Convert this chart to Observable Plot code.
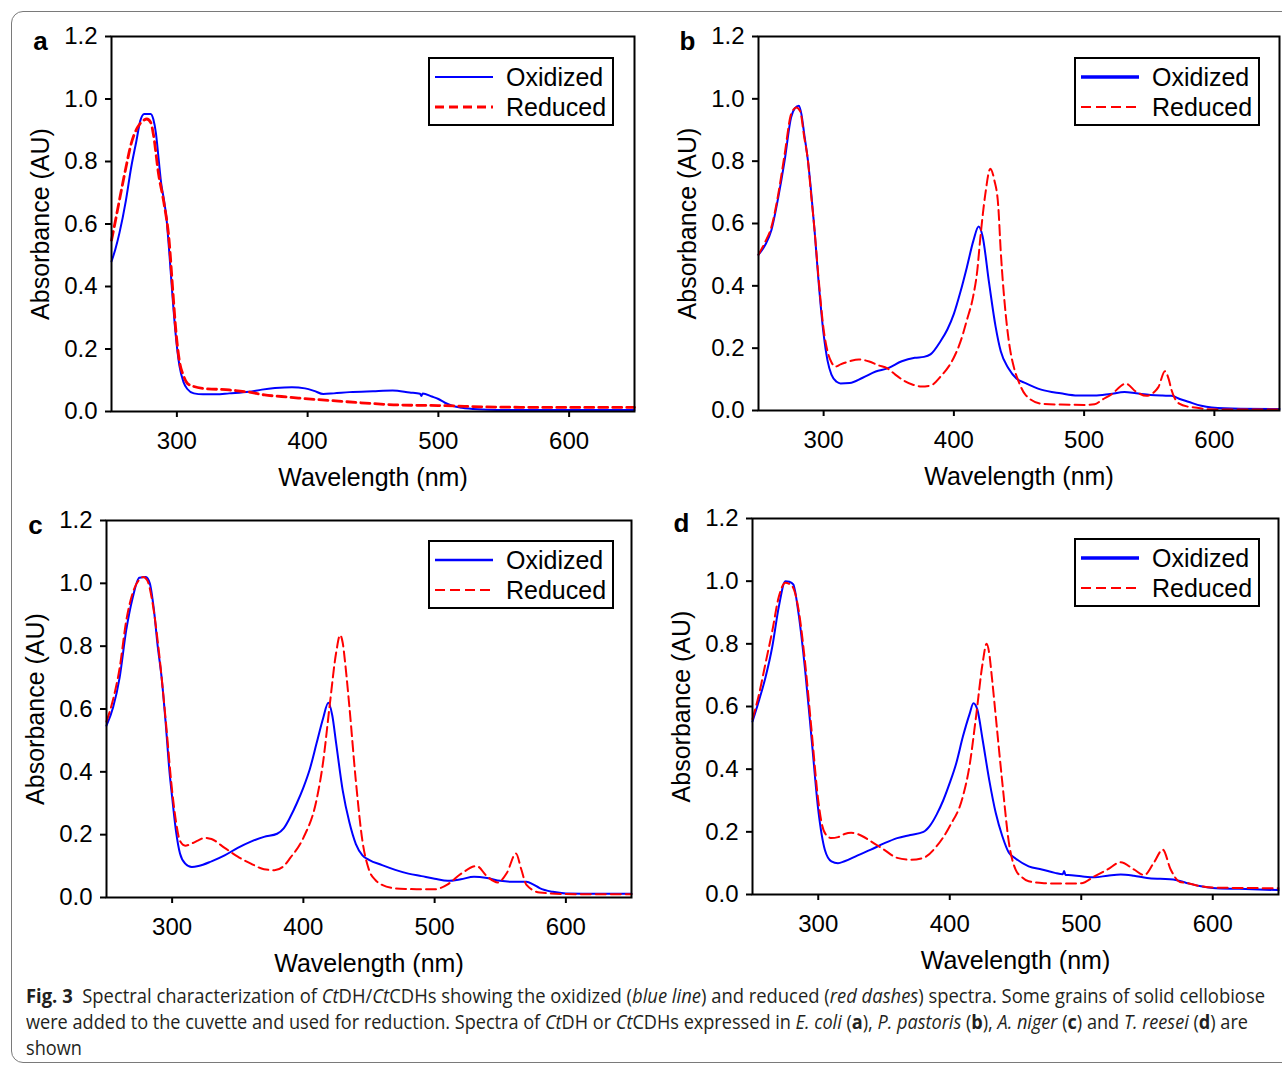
<!DOCTYPE html>
<html>
<head>
<meta charset="utf-8">
<script src="https://cdn.jsdelivr.net/npm/d3@7"></script>
<script src="https://cdn.jsdelivr.net/npm/@observablehq/plot@0.6"></script>
<style>
  html, body { margin: 0; padding: 0; background: #fff; }
  body { width: 1282px; height: 1067px; overflow: hidden; position: relative; font-family: "Liberation Sans", Arial, sans-serif; }
  .border { position: absolute; left: 11px; top: 11px; width: 1310px; height: 1052px; border: 1.5px solid #7a7a7a; border-radius: 12px; box-sizing: border-box; }
  .panel { position: absolute; }
  .legend { position: absolute; border: 2px solid #000; background: #fff; box-sizing: border-box; }
  .legend .row { position: absolute; left: 0; height: 30px; }
  .legend svg { position: absolute; left: 5px; }
  .legend span { position: absolute; left: 76px; font-size: 25px; line-height: 30px; color: #000; white-space: nowrap; }
  .cap { position: absolute; left: 26px; font-family: "Open Sans", "Noto Sans", sans-serif; font-size: 20px; line-height: 26px; color: #231f20; white-space: nowrap; transform-origin: 0 50%; }
</style>
</head>
<body>
<div class="border"></div>
<script>
// ---------- data (wavelength nm, absorbance AU) ----------
const xTicks = [300, 400, 500, 600];
const yTicks = [0, 0.2, 0.4, 0.6, 0.8, 1.0, 1.2];
const seriesNames = ["Oxidized", "Reduced"];
const panelLetters = ["a", "b", "c", "d"];

const aOxidized = [[250,0.48],[253,0.52],[256,0.57],[261,0.675],[265,0.78],[269,0.865],[272,0.93],[275,0.952],[280,0.952],[282,0.935],[284,0.89],[286,0.81],[288,0.73],[290,0.68],[292,0.62],[294,0.52],[297,0.35],[299,0.25],[302,0.145],[305,0.095],[308,0.072],[313,0.058],[320,0.055],[330,0.055],[340,0.058],[355,0.063],[365,0.07],[375,0.075],[388,0.078],[398,0.074],[405,0.066],[412,0.056],[420,0.058],[432,0.062],[450,0.065],[465,0.067],[478,0.061],[486,0.057],[487,0.05],[488,0.058],[495,0.048],[500,0.04],[505,0.028],[510,0.019],[518,0.012],[530,0.007],[545,0.005],[580,0.005],[620,0.005],[650,0.005]];
const aReduced = [[250,0.548],[253,0.61],[256,0.675],[261,0.78],[265,0.856],[270,0.91],[274,0.93],[277,0.936],[280,0.925],[282,0.888],[286,0.76],[290,0.67],[294,0.55],[297,0.38],[299,0.27],[302,0.16],[305,0.115],[308,0.09],[313,0.08],[320,0.074],[340,0.069],[355,0.062],[367,0.053],[380,0.048],[393,0.043],[418,0.035],[444,0.027],[469,0.021],[500,0.019],[546,0.014],[600,0.013],[650,0.013]];

const bOxidized = [[250,0.50],[255,0.53],[260,0.58],[265,0.68],[270,0.80],[275,0.94],[278,0.97],[281,0.978],[283,0.95],[285,0.89],[288,0.80],[290,0.72],[293,0.58],[296,0.42],[300,0.245],[303,0.16],[306,0.115],[310,0.092],[313,0.087],[320,0.088],[330,0.105],[340,0.125],[349,0.135],[360,0.158],[370,0.169],[377,0.172],[382,0.18],[390,0.224],[395,0.26],[400,0.31],[405,0.38],[410,0.46],[415,0.545],[419,0.59],[422,0.56],[427,0.41],[432,0.27],[436,0.19],[442,0.135],[448,0.103],[455,0.088],[467,0.067],[482,0.055],[495,0.048],[508,0.048],[520,0.053],[531,0.059],[540,0.055],[551,0.05],[560,0.048],[567,0.047],[574,0.036],[580,0.028],[590,0.015],[598,0.01],[620,0.006],[650,0.005]];
const bReduced = [[250,0.50],[255,0.54],[260,0.59],[265,0.69],[270,0.82],[275,0.95],[279,0.972],[282,0.96],[285,0.88],[288,0.80],[290,0.71],[293,0.58],[296,0.43],[300,0.26],[303,0.19],[306,0.155],[309,0.141],[313,0.148],[320,0.158],[327,0.164],[335,0.157],[342,0.145],[349,0.135],[355,0.115],[362,0.095],[369,0.082],[375,0.077],[382,0.08],[390,0.11],[400,0.17],[405,0.22],[410,0.29],[415,0.37],[418,0.45],[420,0.54],[424,0.69],[428,0.776],[431,0.74],[434,0.66],[436,0.51],[440,0.30],[443,0.2],[446,0.14],[450,0.09],[455,0.05],[467,0.022],[482,0.019],[500,0.018],[508,0.02],[514,0.035],[521,0.052],[532,0.086],[540,0.06],[548,0.047],[554,0.06],[557,0.075],[562,0.126],[565,0.1],[567,0.067],[573,0.022],[580,0.012],[585,0.01],[595,0.004],[620,0.003],[650,0.003]];

const cOxidized = [[250,0.547],[255,0.605],[260,0.70],[265,0.85],[270,0.955],[275,1.018],[280,1.02],[283,1.0],[286,0.92],[289,0.80],[292,0.70],[295,0.56],[298,0.40],[300,0.32],[303,0.21],[306,0.14],[310,0.108],[315,0.097],[320,0.10],[330,0.115],[340,0.134],[350,0.158],[360,0.178],[370,0.193],[380,0.203],[385,0.22],[390,0.256],[395,0.30],[400,0.35],[405,0.41],[410,0.49],[415,0.57],[419,0.62],[422,0.58],[425,0.49],[430,0.34],[435,0.24],[440,0.17],[445,0.134],[450,0.12],[460,0.103],[470,0.088],[480,0.076],[490,0.068],[500,0.06],[510,0.053],[520,0.058],[530,0.066],[540,0.062],[550,0.053],[560,0.05],[570,0.05],[575,0.042],[580,0.03],[590,0.018],[600,0.013],[625,0.012],[650,0.012]];
const cReduced = [[250,0.56],[255,0.63],[260,0.73],[265,0.88],[270,0.97],[275,1.012],[278,1.02],[281,1.01],[285,0.94],[290,0.78],[295,0.57],[300,0.34],[303,0.24],[306,0.18],[310,0.165],[315,0.172],[320,0.182],[325,0.19],[330,0.186],[340,0.158],[350,0.13],[360,0.108],[370,0.09],[378,0.087],[385,0.1],[390,0.126],[400,0.19],[410,0.31],[415,0.43],[420,0.61],[425,0.78],[428,0.835],[430,0.81],[432,0.74],[435,0.61],[440,0.37],[445,0.18],[450,0.088],[455,0.055],[460,0.04],[470,0.029],[480,0.027],[490,0.026],[500,0.026],[510,0.042],[520,0.075],[532,0.1],[540,0.067],[548,0.048],[555,0.078],[562,0.14],[566,0.09],[570,0.04],[580,0.016],[600,0.011],[650,0.01]];

const dOxidized = [[250,0.552],[255,0.62],[260,0.695],[265,0.79],[270,0.918],[275,1.0],[278,0.998],[281,0.99],[285,0.897],[290,0.717],[295,0.494],[300,0.27],[305,0.143],[310,0.106],[315,0.10],[320,0.106],[330,0.125],[340,0.143],[350,0.163],[360,0.18],[370,0.19],[380,0.2],[385,0.22],[390,0.255],[395,0.3],[400,0.356],[405,0.42],[410,0.504],[415,0.575],[418,0.61],[421,0.59],[425,0.494],[430,0.366],[435,0.26],[440,0.186],[445,0.133],[450,0.115],[460,0.09],[470,0.08],[480,0.069],[486,0.065],[487,0.075],[488,0.062],[490,0.062],[500,0.058],[510,0.055],[520,0.06],[530,0.064],[540,0.06],[550,0.053],[560,0.05],[570,0.048],[580,0.037],[590,0.027],[600,0.021],[620,0.018],[650,0.014]];
const dReduced = [[250,0.56],[255,0.64],[260,0.74],[265,0.84],[270,0.95],[275,0.995],[280,0.985],[285,0.91],[290,0.74],[295,0.52],[300,0.30],[303,0.22],[306,0.19],[310,0.18],[315,0.183],[320,0.193],[325,0.197],[330,0.193],[340,0.17],[350,0.143],[360,0.117],[370,0.111],[380,0.117],[390,0.154],[400,0.218],[410,0.313],[415,0.41],[420,0.568],[425,0.738],[428,0.8],[430,0.77],[432,0.695],[435,0.568],[440,0.356],[445,0.165],[450,0.08],[455,0.055],[460,0.042],[470,0.037],[480,0.035],[490,0.035],[500,0.036],[510,0.058],[520,0.08],[530,0.103],[540,0.08],[548,0.062],[555,0.1],[562,0.143],[568,0.08],[575,0.04],[580,0.037],[590,0.027],[600,0.022],[650,0.02]];

// ---------- layout / style ----------
const FONT = "Liberation Sans, Arial, Helvetica, sans-serif";
const panels = [
  { letter: panelLetters[0], ox: aOxidized, red: aReduced, left: 111, top: 36, w: 523, h: 375, mr: 10,
    plotOx: { sw: 2, dash: null }, plotRed: { sw: 2.8, dash: "9,5" },
    legOx: { sw: 1.8, dash: null }, legRed: { sw: 3, dash: "9,5" }, leg: { left: 428, top: 57, w: 186, h: 69 } },
  { letter: panelLetters[1], ox: bOxidized, red: bReduced, left: 758, top: 36, w: 521, h: 374, mr: 3,
    plotOx: { sw: 2, dash: null }, plotRed: { sw: 2, dash: "10,5" },
    legOx: { sw: 3.5, dash: null }, legRed: { sw: 1.8, dash: "10,5" }, leg: { left: 1074, top: 57, w: 186, h: 69 } },
  { letter: panelLetters[2], ox: cOxidized, red: cReduced, left: 106, top: 520, w: 525, h: 377, mr: 10,
    plotOx: { sw: 2, dash: null }, plotRed: { sw: 2, dash: "10,5" },
    legOx: { sw: 2.5, dash: null }, legRed: { sw: 1.8, dash: "10,5" }, leg: { left: 428, top: 540, w: 186, h: 69 } },
  { letter: panelLetters[3], ox: dOxidized, red: dReduced, left: 752, top: 518, w: 526, h: 376, mr: 4,
    plotOx: { sw: 2, dash: null }, plotRed: { sw: 2, dash: "10,5" },
    legOx: { sw: 3.5, dash: null }, legRed: { sw: 1.8, dash: "10,5" }, leg: { left: 1074, top: 538, w: 186, h: 69 } }
];

const ML = 100, MT = 20, MB = 80;
const BLUE = "#0000ff", RED = "#ff0000";

for (const p of panels) {
  const width = ML + p.w + p.mr;
  const height = MT + p.h + MB;
  const chart = Plot.plot({
    width, height,
    marginLeft: ML, marginTop: MT, marginRight: p.mr, marginBottom: MB,
    style: { fontFamily: FONT, fontSize: "24px", color: "#000", background: "transparent", overflow: "visible" },
    x: { domain: [250, 650] },
    y: { domain: [0, 1.2] },
    marks: [
      Plot.line(p.ox, { x: d => d[0], y: d => d[1], stroke: BLUE, strokeWidth: p.plotOx.sw, curve: "monotone-x" }),
      Plot.line(p.red, { x: d => d[0], y: d => d[1], stroke: RED, strokeWidth: p.plotRed.sw, strokeDasharray: p.plotRed.dash, curve: "monotone-x" }),
      Plot.frame({ stroke: "#000", strokeWidth: 2 }),
      Plot.axisX({ ticks: xTicks, tickSize: 6, tickPadding: 14, label: null, strokeWidth: 2, tickFormat: d => String(d) }),
      Plot.axisY({ ticks: yTicks, tickSize: 6, tickPadding: 8, label: null, strokeWidth: 2, tickFormat: d => d.toFixed(1) }),
      Plot.text(["Wavelength (nm)"], { frameAnchor: "bottom", dy: 66, textAnchor: "middle", lineAnchor: "middle", fontSize: 25, fill: "#000" }),
      Plot.text(["Absorbance (AU)"], { frameAnchor: "left", dx: -71, rotate: -90, textAnchor: "middle", lineAnchor: "middle", fontSize: 25, fill: "#000" }),
      Plot.text([p.letter], { frameAnchor: "top-left", dx: -71, dy: 5, textAnchor: "middle", lineAnchor: "middle", fontSize: 26, fontWeight: "bold", fill: "#000" })
    ]
  });
  chart.classList.add("panel");
  chart.style.left = (p.left - ML) + "px";
  chart.style.top = (p.top - MT) + "px";
  document.body.appendChild(chart);

  // legend box
  const lg = document.createElement("div");
  lg.className = "legend";
  Object.assign(lg.style, { left: p.leg.left + "px", top: p.leg.top + "px", width: p.leg.w + "px", height: p.leg.h + "px" });
  const rows = [
    { name: seriesNames[0], color: BLUE, st: p.legOx, y: 3 },
    { name: seriesNames[1], color: RED, st: p.legRed, y: 33 }
  ];
  for (const r of rows) {
    const row = document.createElement("div");
    row.className = "row";
    row.style.top = r.y + "px";
    row.style.width = "100%";
    const svg = d3.create("svg").attr("width", 62).attr("height", 30);
    svg.append("line").attr("x1", 0).attr("x2", 58).attr("y1", 15).attr("y2", 15)
      .attr("stroke", r.color).attr("stroke-width", r.st.sw)
      .attr("stroke-dasharray", r.st.dash);
    row.appendChild(svg.node());
    const sp = document.createElement("span");
    sp.textContent = r.name;
    row.appendChild(sp);
    lg.appendChild(row);
  }
  document.body.appendChild(lg);
}

// ---------- caption ----------
const captionLines = [
  '<b>Fig. 3</b>&nbsp; Spectral characterization of <i>Ct</i>DH/<i>Ct</i>CDHs showing the oxidized (<i>blue line</i>) and reduced (<i>red dashes</i>) spectra. Some grains of solid cellobiose',
  'were added to the cuvette and used for reduction. Spectra of <i>Ct</i>DH or <i>Ct</i>CDHs expressed in <i>E. coli</i> (<b>a</b>), <i>P. pastoris</i> (<b>b</b>), <i>A. niger</i> (<b>c</b>) and <i>T. reesei</i> (<b>d</b>) are',
  'shown'
];
const captionWidths = [1239, 1222, null];
const capTops = [983, 1009, 1035];
let lastScale = 1;
captionLines.forEach((html, i) => {
  const d = document.createElement("div");
  d.className = "cap";
  d.innerHTML = html;
  d.style.top = capTops[i] + "px";
  document.body.appendChild(d);
  const w = d.getBoundingClientRect().width;
  const s = captionWidths[i] ? captionWidths[i] / w : lastScale;
  lastScale = s;
  d.style.transform = `scaleX(${s})`;
});
</script>
</body>
</html>
